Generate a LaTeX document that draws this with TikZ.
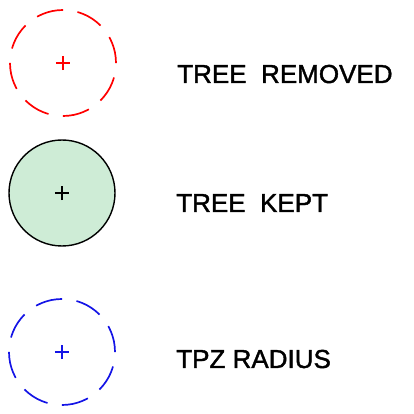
\documentclass[tikz,border=0pt]{standalone}
\usepackage[dvipsnames,svgnames]{xcolor}
\usepackage{fontspec}
\setmainfont{Liberation Sans}
\newfontfamily\legendfont{Liberation Sans}[FakeBold=1.5]
\definecolor{keptgreen}{RGB}{206,236,214}
\definecolor{tpzblue}{RGB}{20,20,230}

\tikzset{
  removed/.style={draw=red,line width=1.2pt,dash pattern=on 19.2pt off 10.4pt},
  kept/.style={draw=black,fill=keptgreen,line width=1pt},
  tpz/.style={draw=tpzblue,line width=1.2pt,dash pattern=on 19.2pt off 10.4pt},
  legendtext/.style={anchor=base west,inner sep=0pt,
    font=\legendfont\fontsize{18.5}{20}\selectfont}
}
\newcommand{\centremark}[2]{% plus sign at a named point
  \draw[#2,line width=0.9pt] ([xshift=-5]#1) -- ([xshift=5]#1)
                             ([yshift=-5]#1) -- ([yshift=5]#1);}

\begin{document}
\begin{tikzpicture}[x=0.25mm,y=0.25mm]
  \useasboundingbox (0,0) rectangle (414,414);
 % symbols
  \coordinate (removedC) at (63,351);
  \coordinate (keptC) at (62,221);
  \coordinate (tpzC) at (62,62);
  \draw[removed] (removedC) circle [radius=53];
  \draw[kept] (keptC) circle [radius=53];
  \draw[tpz] (tpzC) circle [radius=53];
  \centremark{removedC}{red}
  \centremark{keptC}{black}
  \centremark{tpzC}{tpzblue}
 % labels
  \node[legendtext] (removedL) at (177,331) {TREE\ \ REMOVED};
  \node[legendtext] (keptL) at (176,202) {TREE\ \ KEPT};
  \node[legendtext] (tpzL) at (176,46) {TPZ RADIUS};
\end{tikzpicture}
\end{document}
